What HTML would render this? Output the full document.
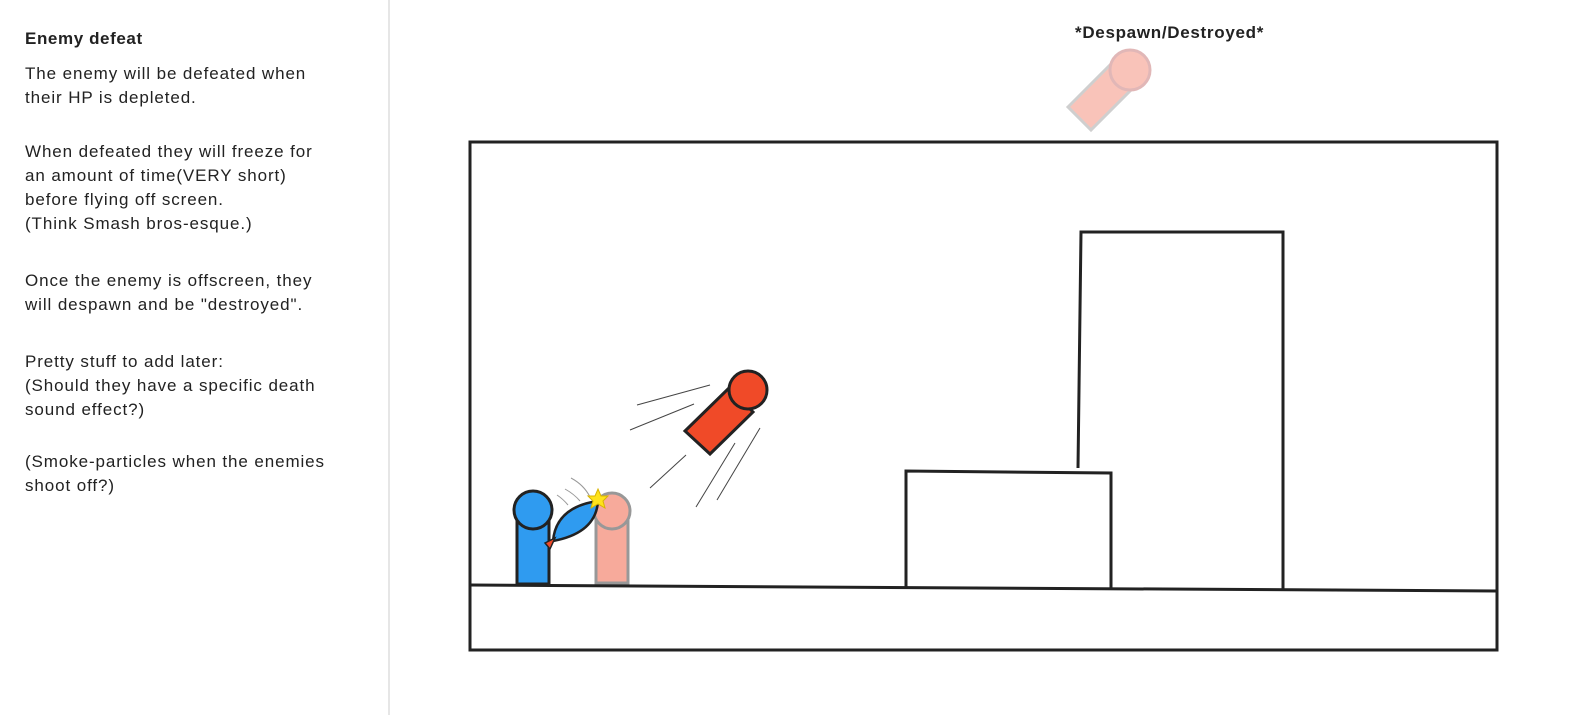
<!DOCTYPE html>
<html><head><meta charset="utf-8"><style>
html,body{margin:0;padding:0;background:#fff;width:1573px;height:715px;overflow:hidden}
svg{display:block}
text{font-family:"Liberation Sans",sans-serif;fill:#222}
</style></head><body>
<svg width="1573" height="715" viewBox="0 0 1573 715">
<line x1="389" y1="0" x2="389" y2="715" stroke="#e6e6e6" stroke-width="2"/>
<g font-size="17" letter-spacing="0.9">
<text x="25" y="44" font-weight="bold" letter-spacing="0.6">Enemy defeat</text>
<text x="25" y="79">The enemy will be defeated when</text>
<text x="25" y="103">their HP is depleted.</text>
<text x="25" y="157">When defeated they will freeze for</text>
<text x="25" y="181">an amount of time(VERY short)</text>
<text x="25" y="205">before flying off screen.</text>
<text x="25" y="229">(Think Smash bros-esque.)</text>
<text x="25" y="286">Once the enemy is offscreen, they</text>
<text x="25" y="310">will despawn and be "destroyed".</text>
<text x="25" y="367">Pretty stuff to add later:</text>
<text x="25" y="391">(Should they have a specific death</text>
<text x="25" y="415">sound effect?)</text>
<text x="25" y="467">(Smoke-particles when the enemies</text>
<text x="25" y="491">shoot off?)</text>
<text x="1075" y="38" font-weight="bold" letter-spacing="0.7">*Despawn/Destroyed*</text>
</g>
<g fill="none" stroke="#222" stroke-width="3">
<rect x="470" y="142" width="1027" height="508"/>
<line x1="470" y1="585" x2="1497" y2="591"/>
<polyline points="906,587 906,471 1111,473 1111,588"/>
<polyline points="1078,468 1081,232 1283,232 1283,589"/>
</g>
<!-- ghost top -->
<g opacity="0.35">
<polygon points="1068,107 1110,65 1133,88 1091,130" fill="#f0573a" stroke="#777" stroke-width="3"/>
<circle cx="1130" cy="70" r="20" fill="#f0573a" stroke="#a33" stroke-width="3"/>
</g>
<!-- speed lines -->
<g stroke="#444" stroke-width="1">
<line x1="637" y1="405" x2="710" y2="385"/>
<line x1="630" y1="430" x2="694" y2="404"/>
<line x1="650" y1="488" x2="686" y2="455"/>
<line x1="696" y1="507" x2="735" y2="443"/>
<line x1="717" y1="500" x2="760" y2="428"/>
<path d="M571 478 Q584 485 590 497" fill="none" stroke="#999"/>
<path d="M565 489 Q574 494 580 501" fill="none" stroke="#999"/>
<path d="M557 495 Q563 499 568 505" fill="none" stroke="#999"/>
</g>
<!-- flying enemy -->
<polygon points="685,431 729,388 753,412 710,454" fill="#f04a28" stroke="#222" stroke-width="3"/>
<circle cx="748" cy="390" r="19" fill="#f04a28" stroke="#222" stroke-width="3"/>
<!-- pink enemy -->
<g opacity="0.5">
<rect x="596" y="513" width="32" height="70" fill="#f0573a" stroke="#333" stroke-width="3"/>
<circle cx="612" cy="511" r="18" fill="#f0573a" stroke="#333" stroke-width="3"/>
</g>
<!-- blue player -->
<rect x="517" y="520" width="32" height="64" fill="#2f9bf0" stroke="#222" stroke-width="3"/>
<circle cx="533" cy="510" r="19" fill="#2f9bf0" stroke="#222" stroke-width="3"/>
<path d="M553 541 Q556 507 598 501 Q596 533 553 541 Z" fill="#2f9bf0" stroke="#222" stroke-width="2.5"/>
<polygon points="545,543 555,538 550,549" fill="#f04a28" stroke="#222" stroke-width="1.5"/>
<polygon points="598,489 601,496 608,496 603,501 605,508 598,504 591,508 593,501 588,496 595,496" fill="#ffe21a" stroke="#d9b400" stroke-width="1"/>
</svg>
</body></html>
